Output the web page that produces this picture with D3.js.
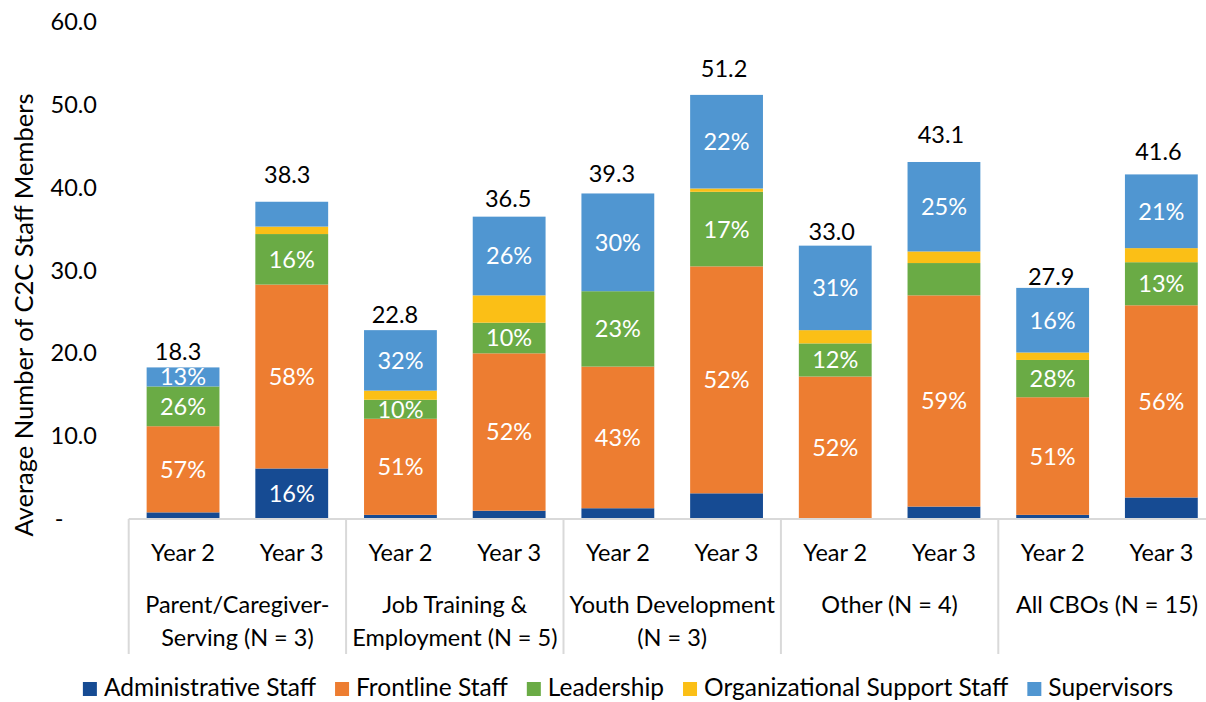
<!DOCTYPE html>
<html>
<head>
<meta charset="utf-8">
<script src="https://cdn.jsdelivr.net/npm/d3@7"></script>
<style>
  html, body { margin: 0; padding: 0; background: #fff; }
  svg { display: block; font-family: Lato, "Open Sans", sans-serif; }
</style>
</head>
<body>
<svg id="chart" width="1206" height="702"></svg>
<script>
// Program groups and the two years shown for each
const groups = [
  ["Parent/Caregiver-", "Serving (N = 3)"],
  ["Job Training &", "Employment (N = 5)"],
  ["Youth Development", "(N = 3)"],
  ["Other (N = 4)"],
  ["All CBOs (N = 15)"]
];
const years = ["Year 2", "Year 3"];

// Staff roles (stack order, bottom to top)
const roles = ["Administrative Staff", "Frontline Staff", "Leadership", "Organizational Support Staff", "Supervisors"];
const roleColors = ["#164b93", "#ed7d31", "#6aab45", "#fbbf16", "#5096d1"];

// Average staff counts per bar (P2, P3, J2, J3, Y2, Y3, O2, O3, A2, A3)
const administrative = [0.8, 6.1, 0.5, 1.0, 1.3, 3.1, 0.0, 1.5, 0.5, 2.6];
const frontline      = [10.4, 22.2, 11.6, 19.0, 17.1, 27.4, 17.2, 25.5, 14.2, 23.2];
const leadership     = [4.8, 6.1, 2.3, 3.7, 9.1, 9.0, 4.0, 3.9, 4.5, 5.2];
const orgSupport     = [0.0, 0.9, 1.1, 3.3, 0.0, 0.4, 1.6, 1.4, 0.9, 1.7];
const supervisors    = [2.3, 3.0, 7.3, 9.5, 11.8, 11.3, 10.2, 10.8, 7.8, 8.9];

// Share labels printed inside the segments
const administrativePct = [null, "16%", null, null, null, null, null, null, null, null];
const frontlinePct      = ["57%", "58%", "51%", "52%", "43%", "52%", "52%", "59%", "51%", "56%"];
const leadershipPct     = ["26%", "16%", "10%", "10%", "23%", "17%", "12%", null, "28%", "13%"];
const orgSupportPct     = [null, null, null, null, null, null, null, null, null, null];
const supervisorsPct    = ["13%", null, "32%", "26%", "30%", "22%", "31%", "25%", "16%", "21%"];

const yTicks = [0, 10, 20, 30, 40, 50, 60];

// Hand-placed total labels: horizontal nudge and gap above the bar (px)
const totalLabelNudge = [
  [-5, 7.6], [-4.5, 18.6], [-5.5, 7], [-1, 10], [-6, 11],
  [-2.5, 17.6], [-3.5, 6], [-3, 19], [-1.5, 2.7], [-3, 14]
];

const series = [administrative, frontline, leadership, orgSupport, supervisors];
const pctLabels = [administrativePct, frontlinePct, leadershipPct, orgSupportPct, supervisorsPct];

const nBars = groups.length * years.length;
const rows = d3.range(nBars).map(i => {
  const r = { idx: i, group: Math.floor(i / 2), year: years[i % 2] };
  roles.forEach((k, j) => { r[k] = series[j][i]; });
  return r;
});

const svg = d3.select("#chart");
const FONT = 23.5;
const baseY = 519, topY = 22;
const plotLeft = 128.7, plotRight = 1215.7;

const x = d3.scaleBand()
  .domain(d3.range(nBars))
  .range([plotLeft, plotRight])
  .paddingInner(0.33)
  .paddingOuter(0.165);

const y = d3.scaleLinear().domain([0, 60]).range([baseY, topY]);

const stack = d3.stack().keys(roles);
const stacked = stack(rows);

// Bars
const layers = svg.append("g").selectAll("g")
  .data(stacked)
  .join("g")
  .attr("fill", (d, i) => roleColors[i]);

layers.selectAll("rect")
  .data(d => d.map(p => ({ p, key: d.key })))
  .join("rect")
  .attr("x", d => x(d.p.data.idx))
  .attr("width", x.bandwidth())
  .attr("y", d => y(d.p[1]))
  .attr("height", d => Math.max(0, y(d.p[0]) - y(d.p[1])));

// Segment share labels
stacked.forEach((layer, j) => {
  svg.append("g").selectAll("text")
    .data(layer.filter((p, i) => pctLabels[j][i] !== null))
    .join("text")
    .attr("x", p => x(p.data.idx) + x.bandwidth() / 2)
    .attr("y", p => (y(p[0]) + y(p[1])) / 2)
    .attr("dy", "0.36em")
    .attr("text-anchor", "middle")
    .attr("fill", "#fff")
    .attr("font-size", FONT)
    .text(p => pctLabels[j][p.data.idx]);
});

// Totals above bars
const totals = rows.map(r => d3.sum(roles, k => r[k]));
svg.append("g").selectAll("text")
  .data(rows)
  .join("text")
  .attr("x", r => x(r.idx) + x.bandwidth() / 2 + totalLabelNudge[r.idx][0])
  .attr("y", r => y(totals[r.idx]) - totalLabelNudge[r.idx][1])
  .attr("text-anchor", "middle")
  .attr("fill", "#000")
  .attr("font-size", FONT)
  .text(r => d3.format(".1f")(totals[r.idx]));

// Category axis: baseline and group separators
const axisColor = "#d9d9d9";
svg.append("line")
  .attr("x1", plotLeft).attr("x2", plotRight)
  .attr("y1", baseY).attr("y2", baseY)
  .attr("stroke", axisColor).attr("stroke-width", 2);

const step = x.step();
svg.append("g").selectAll("line")
  .data(d3.range(groups.length + 1))
  .join("line")
  .attr("x1", g => plotLeft + g * 2 * step)
  .attr("x2", g => plotLeft + g * 2 * step)
  .attr("y1", baseY).attr("y2", 654)
  .attr("stroke", axisColor).attr("stroke-width", 2);

// Year labels
svg.append("g").selectAll("text")
  .data(rows)
  .join("text")
  .attr("x", r => x(r.idx) + x.bandwidth() / 2)
  .attr("y", 561)
  .attr("text-anchor", "middle")
  .attr("fill", "#000")
  .attr("font-size", FONT)
  .text(r => r.year);

// Group labels
const gl = svg.append("g").selectAll("text")
  .data(groups)
  .join("text")
  .attr("x", (g, i) => plotLeft + (i * 2 + 1) * step)
  .attr("text-anchor", "middle")
  .attr("fill", "#000")
  .attr("font-size", FONT);
gl.selectAll("tspan")
  .data(g => g)
  .join("tspan")
  .attr("x", function () { return d3.select(this.parentNode).attr("x"); })
  .attr("y", (t, k) => 613 + k * 33)
  .text(t => t);

// Value axis
const yAxis = d3.axisLeft(y)
  .tickValues(yTicks)
  .tickSize(0)
  .tickPadding(3)
  .tickFormat(d => d === 0 ? "-" : d3.format(".1f")(d));
const ya = svg.append("g")
  .attr("transform", "translate(100,0)")
  .call(yAxis);
ya.select(".domain").remove();
ya.selectAll("text")
  .attr("font-size", FONT)
  .attr("font-family", "Lato, 'Open Sans', sans-serif")
  .attr("fill", "#000");
ya.selectAll(".tick").filter(d => d === 0).select("text")
  .attr("text-anchor", "middle")
  .attr("x", -41);

// Value axis title
svg.append("text")
  .attr("transform", "translate(33,315) rotate(-90)")
  .attr("text-anchor", "middle")
  .attr("fill", "#000")
  .attr("font-size", 25.5)
  .text("Average Number of C2C Staff Members");

// Legend
const LEGEND_FONT = 24.5;
const legend = svg.append("g");
const items = legend.selectAll("g")
  .data(roles)
  .join("g");
items.append("rect")
  .attr("width", 14).attr("height", 14)
  .attr("y", 682)
  .attr("fill", (d, i) => roleColors[i]);
items.append("text")
  .attr("x", 21)
  .attr("y", 696)
  .attr("fill", "#000")
  .attr("font-size", LEGEND_FONT)
  .text(d => d);
let cursor = 0;
const offsets = [];
items.each(function () {
  offsets.push(cursor);
  const w = d3.select(this).select("text").node().getComputedTextLength();
  cursor += 21 + w + 19;
});
const legendWidth = cursor - 19;
const legendStart = 628 - legendWidth / 2;
items.attr("transform", (d, i) => `translate(${legendStart + offsets[i]},0)`);
</script>
</body>
</html>
